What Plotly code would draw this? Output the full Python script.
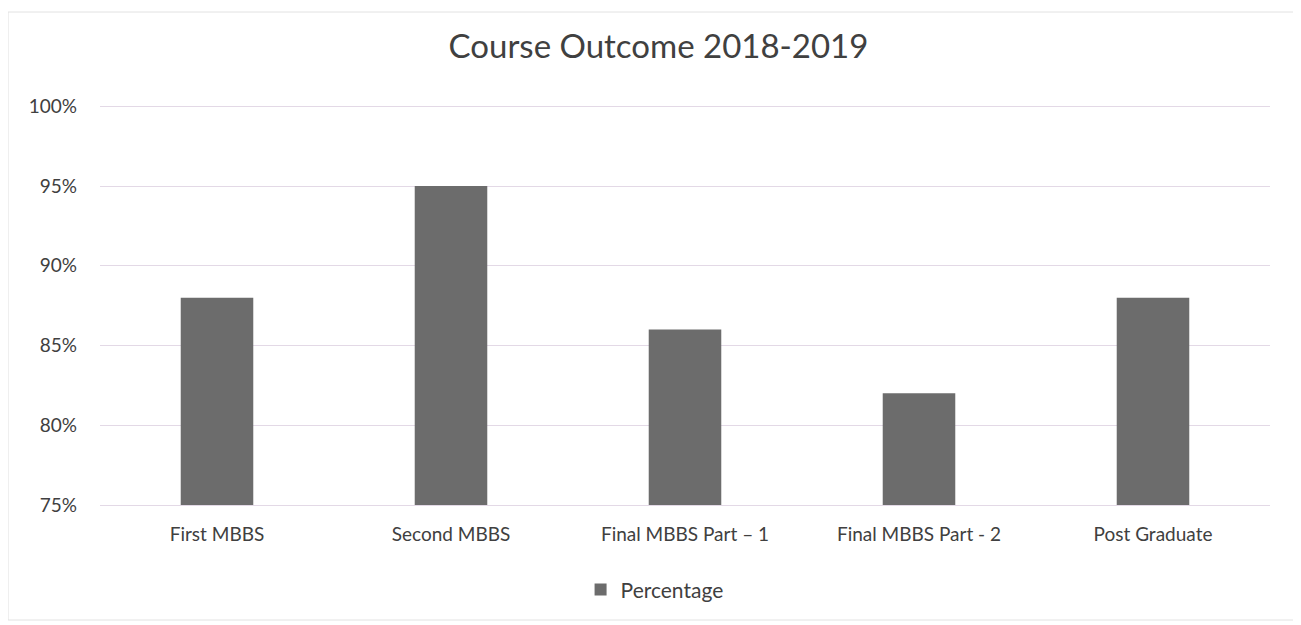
import plotly.graph_objects as go

courses = ["First MBBS", "Second MBBS", "Final MBBS Part \u2013 1", "Final MBBS Part - 2", "Post Graduate"]
percentage = [0.88, 0.95, 0.86, 0.82, 0.88]
y_ticks = [0.75, 0.80, 0.85, 0.90, 0.95, 1.00]

font_family = "Lato, 'Open Sans', sans-serif"
text_color = "#404040"
grid_color = "#e3d9e6"

fig = go.Figure()
fig.add_trace(go.Bar(name="Percentage", x=courses, y=percentage,
                     marker=dict(color="#6c6c6c", line=dict(width=0))))

fig.update_layout(
    width=1301, height=625,
    paper_bgcolor="white", plot_bgcolor="white",
    margin=dict(l=92, r=39, t=97, b=128),
    bargap=0.69,
    title=dict(text="Course Outcome 2018-2019", x=0.5, xanchor="center",
               y=0.939, yref="container", yanchor="middle",
               font=dict(family=font_family, size=33, color=text_color)),
    font=dict(family=font_family, size=19, color=text_color),
    showlegend=True,
    legend=dict(orientation="h", x=0.474, xanchor="center", y=-0.212, yanchor="middle",
                itemwidth=30, font=dict(size=21, color=text_color)),
    shapes=[dict(type="rect", xref="paper", yref="paper", x0=-0.0786, x1=1.023,
                 y0=-0.2875, y1=1.2325, line=dict(color="#e2e2e2", width=1))],
)
fig.update_yaxes(range=[0.75, 1.0008], tickvals=y_ticks, tickformat=".0%",
                 showgrid=True, gridcolor=grid_color, gridwidth=1,
                 zeroline=False, showline=False, ticks="", ticklabelstandoff=22,
                 tickfont=dict(size=19, color=text_color))
fig.update_xaxes(showline=True, linecolor=grid_color, ticks="", ticklabelstandoff=12,
                 tickfont=dict(size=19, color=text_color))

fig.write_html("out.html")
